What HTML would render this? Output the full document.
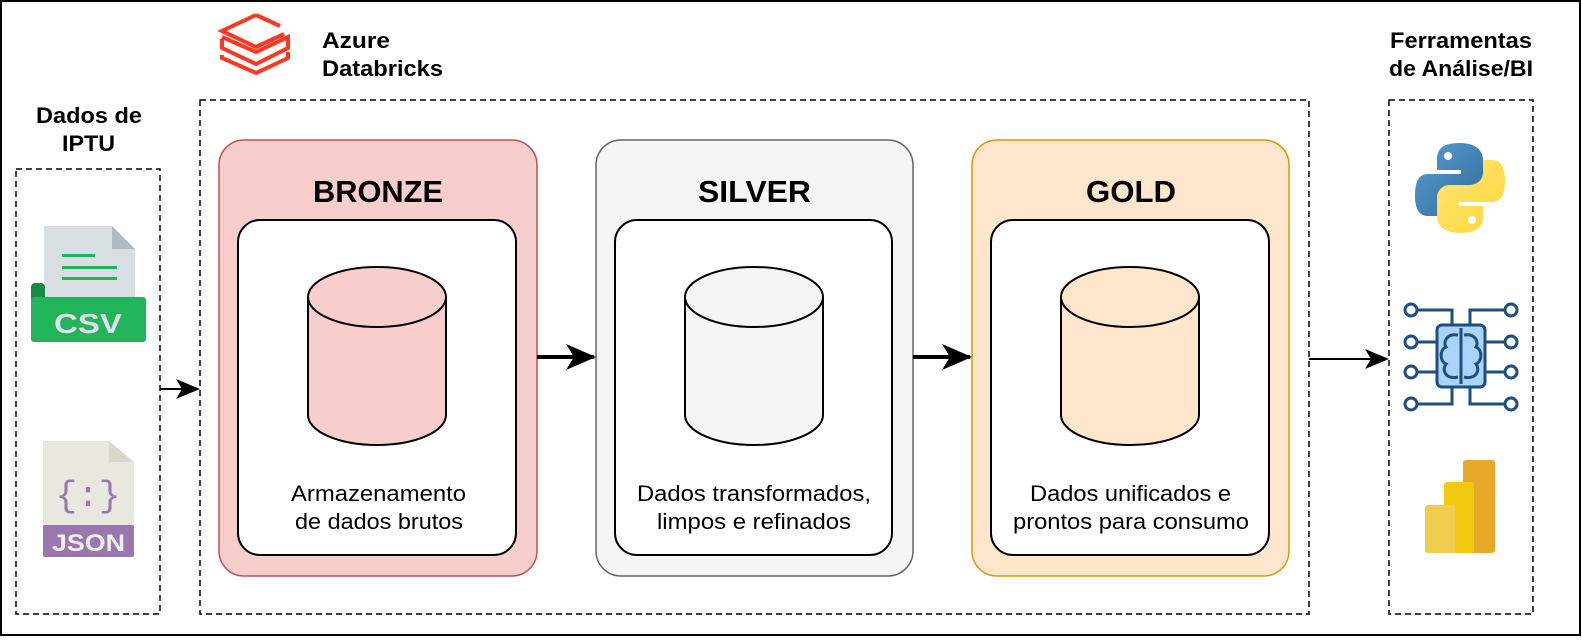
<!DOCTYPE html>
<html><head><meta charset="utf-8"><style>
body{margin:0;background:#fff;}
svg{display:block;font-family:"Liberation Sans",Arial,sans-serif;}
</style></head><body>
<svg width="1582" height="642" viewBox="0 0 1582 642" xmlns="http://www.w3.org/2000/svg">
<defs>
<linearGradient id="pb" x1="0" y1="0" x2="1" y2="1"><stop offset="0" stop-color="#5a9fd4"/><stop offset="1" stop-color="#306998"/></linearGradient>
<linearGradient id="py" x1="0" y1="0" x2="1" y2="1"><stop offset="0" stop-color="#ffe873"/><stop offset="1" stop-color="#ffd43b"/></linearGradient>
</defs>
<rect x="1" y="1" width="1579" height="634" fill="#fff" stroke="#000" stroke-width="2"/>

<rect x="16" y="169" width="144" height="445" fill="none" stroke="#000" stroke-width="1.5" stroke-dasharray="6 4"/>
<rect x="200" y="100" width="1109" height="514" fill="none" stroke="#000" stroke-width="1.5" stroke-dasharray="6 4"/>
<rect x="1389" y="100" width="144" height="514" fill="none" stroke="#000" stroke-width="1.5" stroke-dasharray="6 4"/>

<g font-weight="bold" font-size="22" fill="#000" lengthAdjust="spacingAndGlyphs">
<text x="36" y="123" textLength="106" lengthAdjust="spacingAndGlyphs">Dados de</text>
<text x="62" y="151" textLength="53" lengthAdjust="spacingAndGlyphs">IPTU</text>
<text x="322" y="48" textLength="68" lengthAdjust="spacingAndGlyphs">Azure</text>
<text x="322" y="76" textLength="121" lengthAdjust="spacingAndGlyphs">Databricks</text>
<text x="1390" y="48" textLength="142" lengthAdjust="spacingAndGlyphs">Ferramentas</text>
<text x="1389" y="76" textLength="144" lengthAdjust="spacingAndGlyphs">de Análise/BI</text>
</g>

<!-- databricks logo -->
<g fill="none" stroke="#ff3621" stroke-width="4" stroke-linejoin="miter">
<path d="M256,15 L222,31 L256,47 L284,34 M256,15 L280,26"/>
<path d="M222,39 L222,48 L256,64 L288,48 L288,37 L256,52 L222,37"/>
<path d="M222,55 L222,58 L256,73 L288,58 L288,52"/>
</g>

<rect x="219" y="140" width="318" height="436" rx="25" fill="#f8cecc" stroke="#b85450" stroke-width="1.5"/>
<rect x="596" y="140" width="317" height="436" rx="25" fill="#f5f5f5" stroke="#666" stroke-width="1.5"/>
<rect x="972" y="140" width="317" height="436" rx="25" fill="#ffe6cc" stroke="#d79b00" stroke-width="1.5"/>
<g font-weight="bold" font-size="31" fill="#000">
<text x="313" y="202" textLength="130" lengthAdjust="spacingAndGlyphs">BRONZE</text>
<text x="698" y="202" textLength="113" lengthAdjust="spacingAndGlyphs">SILVER</text>
<text x="1086" y="202" textLength="90" lengthAdjust="spacingAndGlyphs">GOLD</text>
</g>
<g fill="#fff" stroke="#000" stroke-width="2">
<rect x="238" y="220" width="278" height="335" rx="22"/>
<rect x="615" y="220" width="277" height="335" rx="22"/>
<rect x="991" y="220" width="278" height="335" rx="22"/>
</g>
<g stroke="#000" stroke-width="2">
<path d="M308,297 L308,415 A69,30 0 0 0 446,415 L446,297" fill="#f8cecc"/>
<ellipse cx="377" cy="297" rx="69" ry="30" fill="#f8cecc"/>
<path d="M685,297 L685,415 A69,30 0 0 0 823,415 L823,297" fill="#f5f5f5"/>
<ellipse cx="754" cy="297" rx="69" ry="30" fill="#f5f5f5"/>
<path d="M1061,297 L1061,415 A69,30 0 0 0 1199,415 L1199,297" fill="#ffe6cc"/>
<ellipse cx="1130" cy="297" rx="69" ry="30" fill="#ffe6cc"/>
</g>
<g font-size="22" fill="#000">
<text x="291" y="501" textLength="175" lengthAdjust="spacingAndGlyphs">Armazenamento</text>
<text x="295" y="529" textLength="168" lengthAdjust="spacingAndGlyphs">de dados brutos</text>
<text x="637" y="501" textLength="234" lengthAdjust="spacingAndGlyphs">Dados transformados,</text>
<text x="657" y="529" textLength="194" lengthAdjust="spacingAndGlyphs">limpos e refinados</text>
<text x="1030" y="501" textLength="201" lengthAdjust="spacingAndGlyphs">Dados unificados e</text>
<text x="1013" y="529" textLength="236" lengthAdjust="spacingAndGlyphs">prontos para consumo</text>
</g>

<line x1="537" y1="357" x2="594" y2="357" stroke="#000" stroke-width="4"/>
<path d="M596,357 L566,344 L574,357 L566,370 z" fill="#000"/>
<line x1="913" y1="357" x2="970" y2="357" stroke="#000" stroke-width="4"/>
<path d="M972,357 L942,344 L950,357 L942,370 z" fill="#000"/>
<line x1="160" y1="389" x2="198" y2="389" stroke="#000" stroke-width="2"/>
<path d="M200,389 L176,379 L182,389 L176,399 z" fill="#000"/>
<line x1="1309" y1="359" x2="1387" y2="359" stroke="#000" stroke-width="2"/>
<path d="M1389,359 L1365,349 L1371,359 L1365,369 z" fill="#000"/>

<!-- CSV -->
<path d="M44,226 L112,226 L135,249 L135,300 L44,300 z" fill="#d8dfe3"/>
<path d="M112,226 L135,249 L112,249 z" fill="#b0bcc4"/>
<rect x="62" y="254" width="33" height="3" fill="#21b45a"/>
<rect x="62" y="266" width="55" height="3" fill="#21b45a"/>
<rect x="62" y="277" width="55" height="3" fill="#21b45a"/>
<rect x="31" y="283" width="14" height="20" rx="4" fill="#188a45"/>
<rect x="31" y="297" width="115" height="45" rx="3" fill="#21b45a"/>
<text x="54" y="333" font-size="28" font-weight="bold" fill="#dde3e6" textLength="68" lengthAdjust="spacingAndGlyphs">CSV</text>

<!-- JSON -->
<path d="M43,441 L109,441 L134,462 L134,525 L43,525 z" fill="#e8e8e0"/>
<path d="M109,441 L134,462 L109,462 z" fill="#d8d8cc"/>
<text x="88" y="506" font-size="36" text-anchor="middle" fill="#9a78ae" font-family="Liberation Mono,monospace">{:}</text>
<rect x="43" y="525" width="91" height="32" rx="2" fill="#9a78ae"/>
<text x="52" y="551" font-size="24" font-weight="bold" fill="#eee" textLength="73" lengthAdjust="spacingAndGlyphs">JSON</text>

<!-- python -->
<path d="M1460,143 C1440,143 1437,151 1437,160 L1437,170 L1461,170 L1461,174 L1428,174 C1418,174 1415,183 1415,196 C1415,210 1420,216 1428,216 L1437,216 L1437,204 C1437,196 1443,191 1451,191 L1470,191 C1477,191 1483,186 1483,178 L1483,160 C1483,150 1475,143 1460,143 z" fill="url(#pb)"/>
<circle cx="1448" cy="156" r="4" fill="#fff"/>
<path d="M1460,233 C1480,233 1483,225 1483,216 L1483,206 L1459,206 L1459,202 L1492,202 C1502,202 1505,193 1505,180 C1505,166 1500,160 1492,160 L1483,160 L1483,172 C1483,180 1477,185 1469,185 L1450,185 C1443,185 1437,190 1437,198 L1437,216 C1437,226 1445,233 1460,233 z" fill="url(#py)"/>
<circle cx="1472" cy="220" r="4" fill="#fff"/>

<!-- brain chip -->
<g stroke="#1f4f7e" stroke-width="3" fill="none">
<rect x="1437" y="325" width="48" height="62" rx="5" fill="#a9d3f7"/>
<line x1="1461" y1="328" x2="1461" y2="384"/>
<path d="M1458,335 C1446,333 1443,343 1446,347 C1439,350 1440,362 1446,364 C1441,371 1447,380 1458,377"/>
<path d="M1464,335 C1476,333 1479,343 1476,347 C1483,350 1482,362 1476,364 C1481,371 1475,380 1464,377"/>
<path d="M1452,325 L1452,310 L1417,310"/><circle cx="1411" cy="310" r="6" fill="#fff"/>
<path d="M1470,325 L1470,310 L1505,310"/><circle cx="1511" cy="310" r="6" fill="#fff"/>
<path d="M1437,342 L1417,342"/><circle cx="1411" cy="342" r="6" fill="#fff"/>
<path d="M1437,372 L1417,372"/><circle cx="1411" cy="372" r="6" fill="#fff"/>
<path d="M1485,342 L1505,342"/><circle cx="1511" cy="342" r="6" fill="#fff"/>
<path d="M1485,372 L1505,372"/><circle cx="1511" cy="372" r="6" fill="#fff"/>
<path d="M1452,387 L1452,404 L1417,404"/><circle cx="1411" cy="404" r="6" fill="#fff"/>
<path d="M1470,387 L1470,404 L1505,404"/><circle cx="1511" cy="404" r="6" fill="#fff"/>
</g>

<!-- power bi -->
<rect x="1463" y="460" width="32" height="93" rx="3" fill="#e8a92a"/>
<rect x="1444" y="482" width="30" height="71" rx="3" fill="#f2c811"/>
<rect x="1425" y="505" width="30" height="48" rx="3" fill="#f0cd4f"/>
</svg>
</body></html>
